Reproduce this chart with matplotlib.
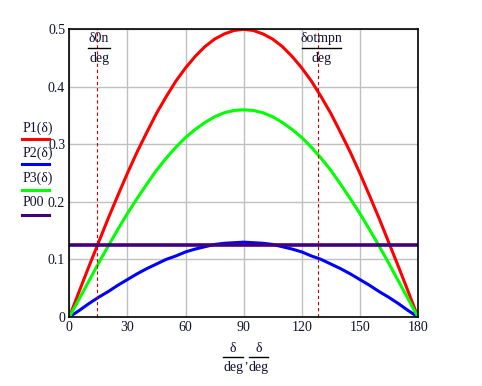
import matplotlib
matplotlib.use("Agg")
import matplotlib.pyplot as plt
from matplotlib.lines import Line2D

# angle in degrees and the three power curves
delta = [0, 5, 10, 15, 20, 25, 30, 35, 40, 45, 50, 55, 60, 65, 70, 75, 80, 85, 90,
         95, 100, 105, 110, 115, 120, 125, 130, 135, 140, 145, 150, 155, 160,
         165, 170, 175, 180]
p1 = [0, 0.044, 0.087, 0.129, 0.171, 0.211, 0.25, 0.287, 0.321, 0.354, 0.383,
      0.41, 0.433, 0.453, 0.47, 0.483, 0.492, 0.498, 0.5,
      0.498, 0.492, 0.483, 0.47, 0.453, 0.433, 0.41, 0.383, 0.354, 0.321,
      0.287, 0.25, 0.211, 0.171, 0.129, 0.087, 0.044, 0]
p2 = [0, 0.011, 0.023, 0.034, 0.044, 0.055, 0.065, 0.075, 0.084, 0.092, 0.1,
      0.106, 0.113, 0.118, 0.122, 0.126, 0.128, 0.129, 0.13,
      0.129, 0.128, 0.126, 0.122, 0.118, 0.113, 0.106, 0.1, 0.092, 0.084,
      0.075, 0.065, 0.055, 0.044, 0.034, 0.023, 0.011, 0]
p3 = [0, 0.031, 0.062, 0.093, 0.123, 0.152, 0.18, 0.206, 0.231, 0.255, 0.276,
      0.295, 0.312, 0.326, 0.338, 0.348, 0.355, 0.359, 0.36,
      0.359, 0.355, 0.348, 0.338, 0.326, 0.312, 0.295, 0.276, 0.255, 0.231,
      0.206, 0.18, 0.152, 0.123, 0.093, 0.062, 0.031, 0]
p00 = 0.125
delta_0n = 14.2
delta_otmpn = 128.5

x_ticks = [0, 30, 60, 90, 120, 150, 180]
y_ticks = [0, 0.1, 0.2, 0.3, 0.4, 0.5]
y_tick_labels = ['0', '0.1', '0.2', '0.3', '0.4', '0.5']

legend_names = ['P1(δ)', 'P2(δ)', 'P3(δ)', 'P00']
legend_colors = ['#ff0000', '#0000ff', '#00ff00', '#400080']

plt.rcParams['font.family'] = ['Liberation Serif', 'DejaVu Serif']

W, H = 482, 386
fig = plt.figure(figsize=(W / 100, H / 100), dpi=100)
ax = fig.add_axes([0.144, 0.179, 0.723, 0.745])

ax.plot(delta, p1, color=legend_colors[0], lw=2.2)
ax.plot(delta, p2, color=legend_colors[1], lw=2.2)
ax.plot(delta, p3, color=legend_colors[2], lw=2.2)
ax.axhline(p00, color=legend_colors[3], lw=2.6)

for xv in (delta_0n, delta_otmpn):
    ax.axvline(xv, color='#cc0000', lw=0.8, ls=(0, (3, 2.5)))

ax.set_xlim(0, 180)
ax.set_ylim(0, 0.5)
ax.set_xticks(x_ticks)
ax.set_yticks(y_ticks)
ax.set_yticklabels(y_tick_labels)
ax.grid(True, color='#c0c0c0', lw=1)
ax.set_axisbelow(True)
ax.tick_params(length=0, labelsize=10, pad=3, colors='#101030')
for s in ax.spines.values():
    s.set_linewidth(1.2)
    s.set_color('black')

txt_color = '#101030'


def px(x, y):
    # pixel (from top-left) to figure fraction
    return x / W, 1 - y / H


def frac(x0, x1, ybar, num, den):
    xc = (x0 + x1) / 2
    fig.text(*px(xc, ybar - 9), num, ha='center', va='center',
             fontsize=10, color=txt_color)
    fig.text(*px(xc, ybar + 11), den, ha='center', va='center',
             fontsize=10, color=txt_color)
    (a, b), (c, d) = px(x0, ybar), px(x1, ybar)
    fig.add_artist(Line2D([a, c], [b, d], color='black', lw=1.0,
                          transform=fig.transFigure))


# marker labels at the top
frac(88, 110, 47.5, 'δ0n', 'deg')
frac(302, 341, 47.5, 'δotmpn', 'deg')

# x axis label
frac(223, 243, 357, 'δ', 'deg')
frac(249, 268, 357, 'δ', 'deg')
fig.text(*px(246, 360), ',', ha='center', va='center', fontsize=9,
         color=txt_color)

# legend on the left
for i, (name, col) in enumerate(zip(legend_names, legend_colors)):
    ytxt = 128 + 25 * i
    fig.text(*px(23, ytxt), name, ha='left', va='center', fontsize=10,
             color=txt_color)
    (a, b), (c, d) = px(22, ytxt + 11.5), px(49, ytxt + 11.5)
    fig.add_artist(Line2D([a, c], [b, d], color=col, lw=2.2,
                          transform=fig.transFigure))

fig.savefig('out.png', dpi=100)
